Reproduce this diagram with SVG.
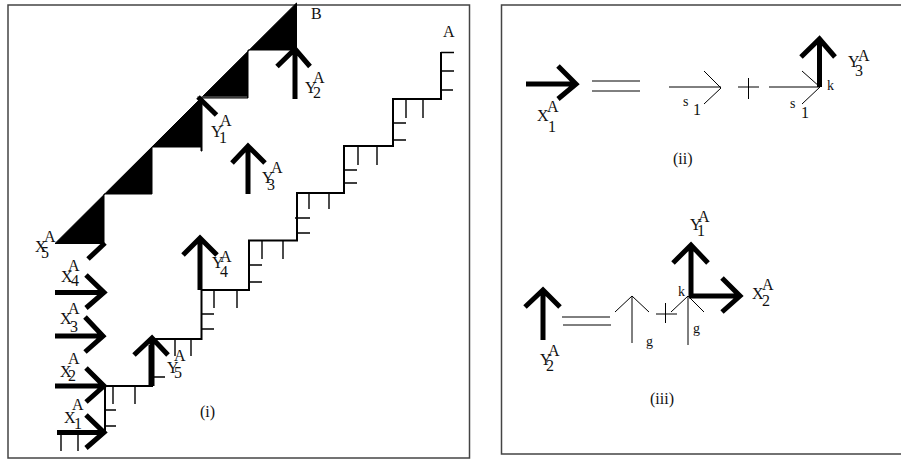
<svg xmlns="http://www.w3.org/2000/svg" width="901" height="459" viewBox="0 0 901 459">
<style>
text{font-family:"Liberation Serif","Times New Roman",serif;font-size:16px;fill:#111}
text.m{font-size:14px}
.f{fill:none;stroke:#444;stroke-width:1.5}
.st{fill:none;stroke:#000;stroke-width:2;stroke-linejoin:miter}
.t{fill:none;stroke:#000;stroke-width:1.4}
.h{fill:none;stroke:#000;stroke-width:5;stroke-linejoin:miter}
.n{fill:none;stroke:#000;stroke-width:1}
</style>
<rect width="901" height="459" fill="#fff"/>
<g id="frames">
<rect class="f" x="8" y="5" width="461.500" height="453"/>
<path class="f" d="M901 5H501.500V454H901"/>
</g>
<g id="staircase">
<path class="st" d="M441 52V99H393V146H344V193H297V240.500H249V290H201.500V339H152V386H105V432.500H57"/>
<path class="t" d="M441 52.500H454M441 71H454M441 90H453M406 99V118M423 99V118M393 123H406M393 140H406M358 146V165M377 146V165M344 170H357M344 183H357M309 193V209M329 193V209M295 218H310M297 233H310M262 240V259M283 240V259M249 265H262M249 282H262M214 290V308M237 290V308M202 314H214M202 329H214M175 339V356M191 339V356M152 377H165M113 386V404M135 386V404M105 410H116M105 426H116M61 432V451M78 432V451"/>
</g>
<g id="black-steps">
<path fill="#000" stroke="#000" d="M296.500 3V50H248V98H202V151H201V147H152V194H104V243.500H55Z"/>
<path d="M197 97H247" fill="none" stroke="#777" stroke-width="1"/>
</g>
<g id="connectors">
<path class="h" d="M295 99V50M277 66.500L295 49L310 66.500"/>
<path class="h" d="M198 97L216.500 115"/>
<path class="h" d="M248 194V145M232 163L248 146L265 163"/>
<path class="h" d="M200 290V238M183 255L200 238L217 255"/>
<path class="h" d="M152 386V338M134 355L152 338L168 355"/>
<path class="h" stroke-width="6" d="M151 386V345"/>
<path class="h" d="M88 259L105 243"/>
<path class="h" d="M55 292.500H104M86 275L104 292.500L86 308"/>
<path class="h" d="M55 336H104M85 317L103 336L85 352"/>
<path class="h" d="M55 386H104M86 368L104 386L86 402"/>
<path class="h" d="M57 432.500H104M86 415L104 432.500L86 448"/>
<path class="h" d="M526 84H576M558 66L576 84L558 99"/>
<path class="n" d="M592 81H640M592 91H640M669 87H721M704 71L721 88L704 104M738 87H759M748.500 78V99M769 87H820M802 71L820 87L802 104"/>
<path class="h" d="M819.500 87V39M801 57L819.500 39L835 57"/>
<path class="h" d="M543 340V290M525 307L543 290L560 307"/>
<path class="n" d="M562 317H610M563 325H611M632 343V296M615 312L632 296L649 312M656 314H677M665.500 303V323M688 345V296M671 312L688 296L704 312"/>
<path class="h" d="M691 296V246M673 263L691 245L708 263"/>
<path class="h" d="M689 296H740M722 278L740 296L722 312"/>
</g>
<g id="labels-i">
<text x="35" y="252">X</text><text x="44" y="242">A</text><text x="41" y="258">5</text>
<text x="61" y="282">X</text><text x="68" y="271">A</text><text x="71" y="286">4</text>
<text x="60" y="324">X</text><text x="68" y="314">A</text><text x="70" y="332">3</text>
<text x="60" y="377">X</text><text x="68" y="364">A</text><text x="68" y="381">2</text>
<text x="64" y="423">X</text><text x="72" y="410">A</text><text x="74" y="429">1</text>
<text x="212" y="268">Y</text><text x="220" y="262">A</text><text x="220" y="277">4</text>
<text x="167" y="373">Y</text><text x="174" y="361">A</text><text x="174" y="378">5</text>
<text x="305" y="93">Y</text><text x="313" y="83">A</text><text x="313" y="98">2</text>
<text x="211" y="137">Y</text><text x="220" y="126">A</text><text x="219" y="143">1</text>
<text x="262" y="183">Y</text><text x="271" y="173">A</text><text x="267" y="190">3</text>
<text x="311" y="19">B</text><text x="443" y="37">A</text><text x="200" y="417">(i)</text>
</g>
<g id="labels-ii">
<text x="537" y="121">X</text><text x="547" y="112">A</text><text x="548" y="132">1</text>
<text x="848" y="67">Y</text><text x="858" y="61">A</text><text x="855" y="76">3</text>
<text class="m" x="683" y="106">s</text><text x="693" y="115">1</text>
<text class="m" x="790" y="108">s</text><text x="801" y="118">1</text>
<text class="m" x="827" y="90">k</text><text x="673" y="164">(ii)</text>
</g>
<g id="labels-iii">
<text x="690" y="230">Y</text><text x="698" y="222">A</text><text x="697" y="236">1</text>
<text x="752" y="299">X</text><text x="762" y="290">A</text><text x="762" y="306">2</text>
<text x="540" y="365">Y</text><text x="548" y="356">A</text><text x="546" y="371">2</text>
<text class="m" x="646" y="346">g</text><text class="m" x="693" y="333">g</text><text class="m" x="678" y="296">k</text>
<text x="650" y="404">(iii)</text>
</g>
</svg>
